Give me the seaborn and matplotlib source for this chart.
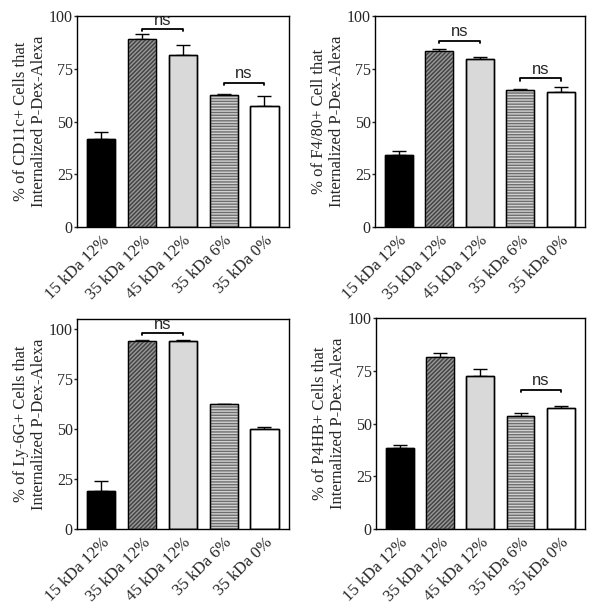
import numpy as np
import pandas as pd
import matplotlib
matplotlib.use('Agg')
import matplotlib.pyplot as plt
import seaborn as sns

# Groups (same for every panel)
groups = ['15 kDa 12%', '35 kDa 12%', '45 kDa 12%', '35 kDa 6%', '35 kDa 0%']

# Mean values and upper error for each panel
cd11c_mean = [41.5, 88.9, 81.5, 62.4, 57.3]
cd11c_err = [3.7, 2.4, 4.8, 0.6, 4.6]
f480_mean = [34.0, 83.5, 79.7, 65.0, 63.8]
f480_err = [2.1, 0.7, 0.7, 0.5, 2.7]
ly6g_mean = [18.9, 94.0, 94.2, 62.3, 50.1]
ly6g_err = [5.0, 0.7, 0.3, 0.3, 1.0]
p4hb_mean = [38.3, 81.3, 72.5, 53.5, 57.3]
p4hb_err = [1.4, 2.1, 3.3, 1.4, 0.9]

ylabels = ['% of CD11c+ Cells that\nInternalized P-Dex-Alexa',
           '% of F4/80+ Cell that\nInternalized P-Dex-Alexa',
           '% of Ly-6G+ Cells that\nInternalized P-Dex-Alexa',
           '% of P4HB+ Cells that\nInternalized P-Dex-Alexa']

# ns brackets: (first bar, second bar, height)
cd11c_ns = [(1, 2, 93.7), (3, 4, 68.4)]
f480_ns = [(1, 2, 88.3), (3, 4, 70.4)]
ly6g_ns = [(1, 2, 97.8)]
p4hb_ns = [(3, 4, 65.8)]

# bar styles: face colour, hatch, hatch colour
faces = ['black', '#444444', '#d9d9d9', '#d2d2d2', 'white']
hatches = [None, '////////', None, '------', None]
hatch_colors = [None, '#9a9a9a', None, '#6e6e6e', None]

sns.set_style('ticks')
plt.rcParams['font.family'] = ['Liberation Serif', 'DejaVu Serif']
plt.rcParams['hatch.linewidth'] = 1.0

fig = plt.figure(figsize=(6.02, 6.14), dpi=100)

# axes boxes in pixels: left, top, right, bottom
boxes = [(77, 16, 289, 227), (375, 16, 585, 227),
         (77, 319, 289, 529), (376, 318, 585, 529)]
panels = [(cd11c_mean, cd11c_err, cd11c_ns, 100),
          (f480_mean, f480_err, f480_ns, 100),
          (ly6g_mean, ly6g_err, ly6g_ns, 105),
          (p4hb_mean, p4hb_err, p4hb_ns, 100)]

for (l, t, r, b), (means, errs, ns_list, ytop), ylab in zip(boxes, panels, ylabels):
    ax = fig.add_axes([l / 602, (614 - b) / 614, (r - l) / 602, (b - t) / 614])
    df = pd.DataFrame({'group': groups, 'value': means})
    sns.barplot(data=df, x='group', y='value', ax=ax, width=0.69,
                palette=faces, hue='group', legend=False, errorbar=None,
                edgecolor='black', linewidth=1.0, zorder=2)
    # hatch in its own colour, black outlines drawn on top
    for i, p in enumerate(ax.patches[:5]):
        if hatches[i]:
            p.set_edgecolor(hatch_colors[i])
            p.set_hatch(hatches[i])
    x = np.arange(len(groups))
    ax.bar(x, means, width=0.69, fill=False, edgecolor='black', linewidth=1.0, zorder=3)
    ax.errorbar(x, means, yerr=[np.zeros(len(errs)), errs], fmt='none',
                ecolor='black', elinewidth=1.0, capsize=5, capthick=1.0, zorder=1)

    for a, bb, h in ns_list:
        ax.plot([a, a, bb, bb], [h - 1.0, h, h, h - 1.0], color='black', lw=1.3,
                clip_on=False)
        ax.text((a + bb) / 2, h + 0.8, 'ns', ha='center', va='bottom',
                fontsize=12, family=['Liberation Sans', 'DejaVu Sans'])

    ax.set_xlim(-0.59, 4.6)
    ax.set_ylim(0, ytop)
    ax.set_yticks([0, 25, 50, 75, 100])
    ax.tick_params(axis='y', labelsize=11.5, length=2, width=1, pad=1)
    ax.tick_params(axis='x', length=0, labelsize=12, pad=4)
    ax.set_xticks(x)
    ax.set_xticklabels(groups, rotation=45, ha='right', rotation_mode='anchor')
    ax.set_xlabel('')
    ax.set_ylabel(ylab, fontsize=12, labelpad=1, linespacing=1.2)
    for s in ax.spines.values():
        s.set_visible(True)
        s.set_linewidth(1.0)
        s.set_color('black')

fig.savefig('out.png', dpi=100)
